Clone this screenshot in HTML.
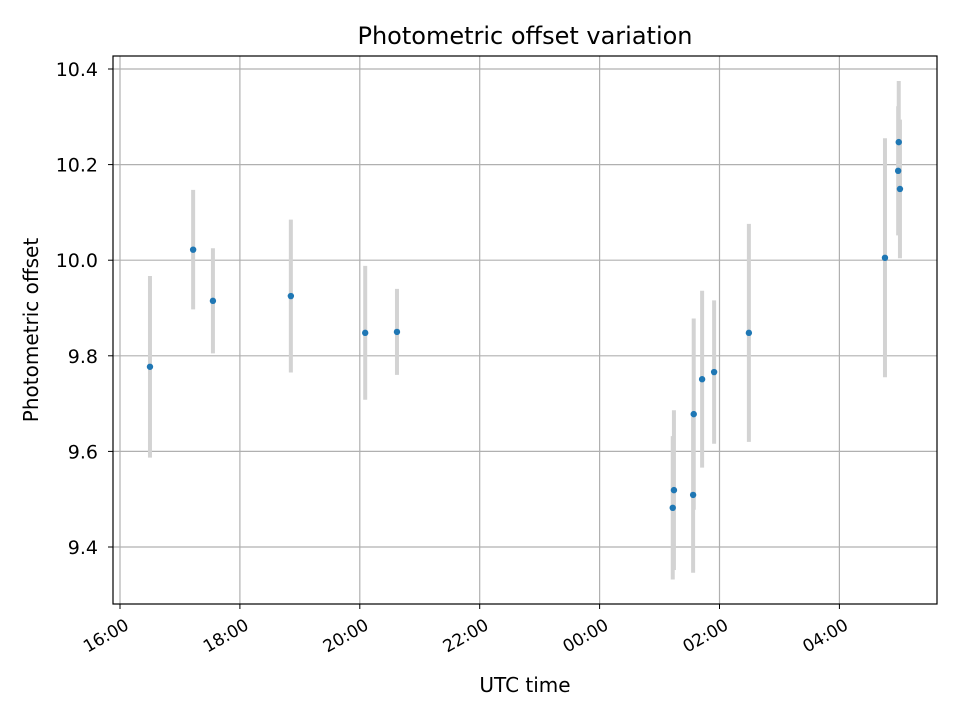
<!DOCTYPE html>
<html><head><meta charset="utf-8"><style>
body{margin:0;background:#fff;font-family:"DejaVu Sans","Liberation Sans",sans-serif}
</style></head><body>
<svg id="chart" width="960" height="720" xmlns="http://www.w3.org/2000/svg" font-family="DejaVu Sans, Liberation Sans, sans-serif">
<rect width="960" height="720" fill="#fff"/>
<g id="grid"></g><g id="bars"></g><g id="pts"></g><g id="axes"></g>
<text x="525" y="44" text-anchor="middle" font-size="24">Photometric offset variation</text>
<text x="525" y="692" text-anchor="middle" font-size="20">UTC time</text>
<text transform="translate(38,330) rotate(-90)" text-anchor="middle" font-size="20">Photometric offset</text>
</svg>
<script>
// hours after 16:00
const times=[0.50,1.22,1.55,2.85,4.09,4.62,9.22,9.24,9.57,9.56,9.71,9.91,10.49,12.76,12.99,12.98,13.01];
const values=[9.777,10.022,9.915,9.925,9.848,9.850,9.482,9.519,9.678,9.509,9.751,9.766,9.848,10.005,10.247,10.187,10.149];
const errors=[0.19,0.125,0.11,0.16,0.14,0.09,0.15,0.167,0.20,0.163,0.185,0.15,0.228,0.25,0.128,0.135,0.145];
const xTickHours=[0,2,4,6,8,10,12];
const xTickLabels=["16:00","18:00","20:00","22:00","00:00","02:00","04:00"];
const yTicks=[9.4,9.6,9.8,10.0,10.2,10.4];
const L=113,R=937,T=56,B=604;
const X=h=>120+h*59.95;
const Y=v=>69+(10.4-v)*478;
const NS="http://www.w3.org/2000/svg";
function mk(p,tag,a){const e=document.createElementNS(NS,tag);for(const k in a)e.setAttribute(k,a[k]);document.getElementById(p).appendChild(e);return e;}
xTickHours.forEach((h,i)=>{
 const g=mk('grid','line',{x1:X(h),x2:X(h),y1:T,y2:B,stroke:'#b0b0b0','stroke-width':1.2});
 
 
 const t=mk('axes','line',{x1:X(h),x2:X(h),y1:B,y2:B+5,stroke:'#000'});
 
 
 const ax=X(h)+4, ay=B+14;
 const lb=mk('axes','text',{x:ax,y:ay,'text-anchor':'end','dominant-baseline':'hanging','font-size':17,transform:`rotate(-30 ${ax} ${ay})`});
 lb.textContent=xTickLabels[i];
 
 
});
yTicks.forEach(v=>{
 const g=mk('grid','line',{x1:L,x2:R,y1:Y(v),y2:Y(v),stroke:'#b0b0b0','stroke-width':1.2});
 
 
 const t=mk('axes','line',{x1:L-5,x2:L,y1:Y(v),y2:Y(v),stroke:'#000'});
 
 
 const lb=mk('axes','text',{x:L-15,y:Y(v)+7,'text-anchor':'end','font-size':19});
 lb.textContent=v.toFixed(1);
 
 
});
const fr=mk('axes','rect',{x:L,y:T,width:R-L,height:B-T,fill:'none',stroke:'#000','stroke-width':1.2});


times.forEach((h,i)=>{
 const b=mk('bars','line',{x1:X(h),x2:X(h),y1:Y(values[i]+errors[i]),y2:Y(values[i]-errors[i]),stroke:'#d3d3d3','stroke-width':4});
 
 
 const c=mk('pts','circle',{cx:X(h),cy:Y(values[i]),r:3.2,fill:'#1f77b4'});
 
 
});
</script>
</body></html>
